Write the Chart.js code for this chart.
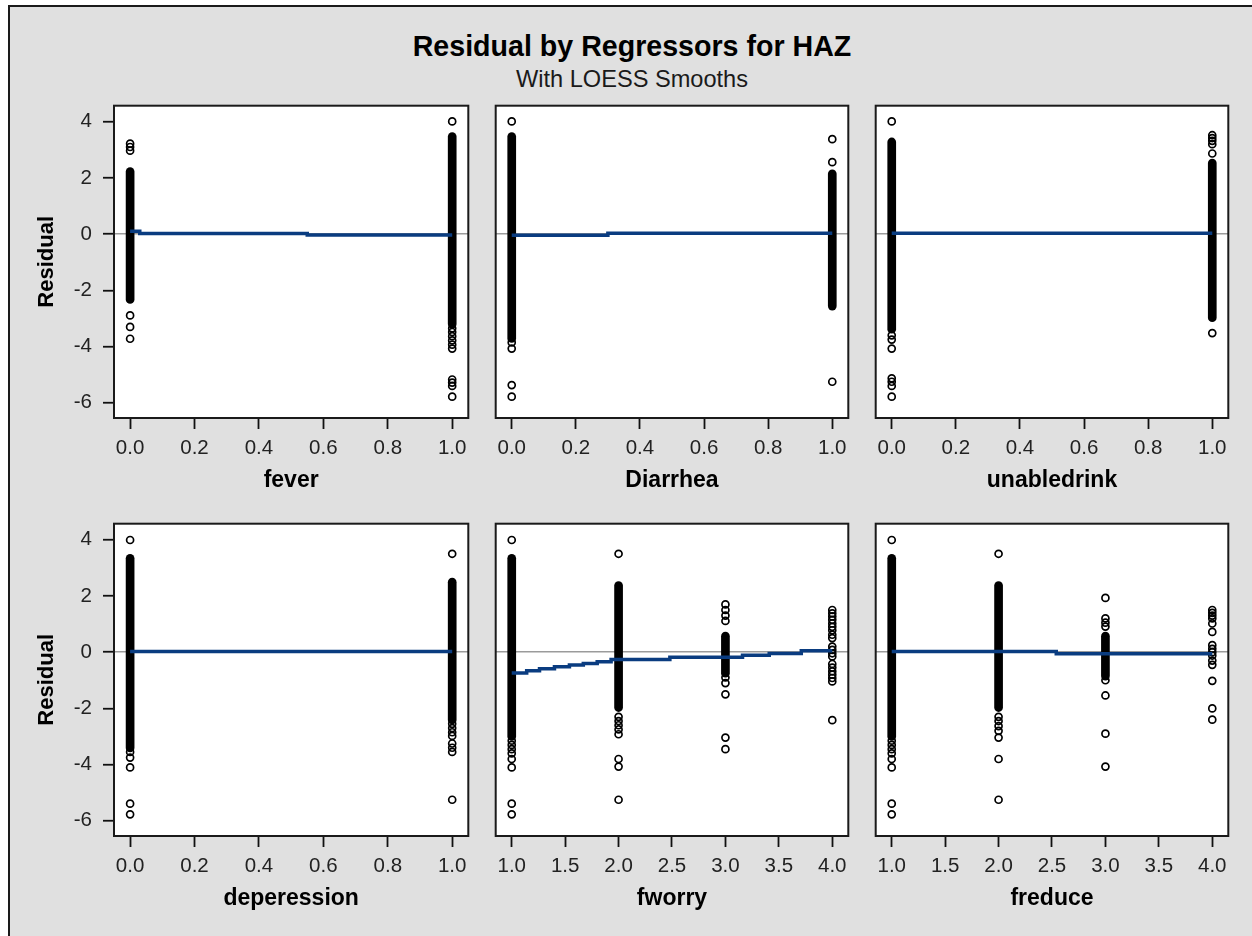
<!DOCTYPE html>
<html>
<head>
<meta charset="utf-8">
<script src="https://cdn.jsdelivr.net/npm/chart.js@4.4.1/dist/chart.umd.min.js"></script>
<style>
  html, body { margin: 0; padding: 0; background: #ffffff; }
  #page { position: relative; width: 1252px; height: 936px; overflow: hidden; }
  #box { position: absolute; left: 8px; top: 5px; width: 1300px; height: 1000px;
         background: #e0e0e0; border-left: 2px solid #1a1a1a; border-top: 2px solid #1a1a1a; }
  .ttl { position: absolute; left: 0; width: 1264px; text-align: center; color: #000;
         font-family: "Liberation Sans", Arial, sans-serif; white-space: nowrap; }
  #title { top: 32px; font-size: 28.6px; line-height: 29px; font-weight: bold; }
  #subtitle { top: 67px; font-size: 23.6px; line-height: 24px; color: #1a1a1a; }
  .panel { position: absolute; }
</style>
</head>
<body>
<div id="page">
  <div id="box"></div>
  <div id="title" class="ttl">Residual by Regressors for HAZ</div>
  <div id="subtitle" class="ttl">With LOESS Smooths</div>
</div>
<script>
// ---------------- data ----------------
const panelTitles = ['fever', 'Diarrhea', 'unabledrink', 'deperession', 'fworry', 'freduce'];
const binaryTicks = [0.0, 0.2, 0.4, 0.6, 0.8, 1.0];
const ordinalTicks = [1.0, 1.5, 2.0, 2.5, 3.0, 3.5, 4.0];
const residualTicks = [-6, -4, -2, 0, 2, 4];

// dense runs of overlapping circles: [x, lowest residual, highest residual]
const feverDense = [[0, -2.32, 2.23], [1, -3.20, 3.47]];
const feverPoints = [[0, 3.22], [0, 3.10], [0, 2.97], [0, -2.89], [0, -3.30], [0, -3.72],
  [1, 4.01], [1, -3.35], [1, -3.48], [1, -3.63], [1, -3.78], [1, -3.93], [1, -4.07],
  [1, -5.17], [1, -5.28], [1, -5.40], [1, -5.78]];
const feverLoess = [[0, 0.10], [0.03, 0.02], [0.55, -0.03], [1, -0.03]];

const diarrheaDense = [[0, -3.71, 3.47], [1, -2.56, 2.15]];
const diarrheaPoints = [[0, 4.01], [0, -3.85], [0, -4.07], [0, -5.37], [0, -5.78],
  [1, 3.38], [1, 2.56], [1, -5.25]];
const diarrheaLoess = [[0, -0.035], [0.30, 0.035], [1, 0.035]];

const unableDense = [[0, -3.38, 3.28], [1, -2.97, 2.53]];
const unablePoints = [[0, 4.01], [0, -3.60], [0, -3.75], [0, -4.07], [0, -5.13], [0, -5.25], [0, -5.40], [0, -5.78],
  [1, 3.52], [1, 3.42], [1, 3.32], [1, 3.20], [1, 2.87], [1, -3.52]];
const unableLoess = [[0, 0.035], [1, 0.035]];

const depDense = [[0, -3.41, 3.34], [1, -2.41, 2.49]];
const depPoints = [[0, 3.99], [0, -3.55], [0, -3.75], [0, -4.10], [0, -5.39], [0, -5.77],
  [1, 3.50], [1, -2.55], [1, -2.70], [1, -2.85], [1, -2.98], [1, -3.25], [1, -3.40], [1, -3.55], [1, -5.25]];
const depLoess = [[0, 0.02], [1, 0.02]];

const fworryDense = [[1, -3.00, 3.34], [2, -1.97, 2.37], [3, -0.75, 0.57]];
const fworryPoints = [[1, 3.99], [1, -3.15], [1, -3.30], [1, -3.45], [1, -3.60], [1, -3.80], [1, -4.10], [1, -5.39], [1, -5.77],
  [2, 3.50], [2, -2.30], [2, -2.45], [2, -2.60], [2, -2.75], [2, -2.92], [2, -3.80], [2, -4.07], [2, -5.25],
  [3, 1.70], [3, 1.50], [3, 1.30], [3, 1.11], [3, -0.90], [3, -1.10], [3, -1.50], [3, -3.04], [3, -3.45],
  [4, 1.50], [4, 1.38], [4, 1.27], [4, 1.15], [4, 1.02], [4, 0.90], [4, 0.78], [4, 0.62], [4, 0.50], [4, 0.20],
  [4, 0.08], [4, -0.04], [4, -0.15], [4, -0.42], [4, -0.55], [4, -0.68], [4, -0.80], [4, -0.92], [4, -1.04], [4, -2.42]];
const fworryLoess = [[1, -0.74], [1.14, -0.66], [1.26, -0.59], [1.40, -0.52], [1.54, -0.46], [1.67, -0.40],
  [1.80, -0.34], [1.93, -0.26], [2.48, -0.18], [3.16, -0.11], [3.41, -0.05], [3.71, 0.05], [4, 0.05]];

const freduceDense = [[1, -3.00, 3.34], [2, -1.97, 2.37], [3, -0.85, 0.57]];
const freducePoints = [[1, 3.99], [1, -3.15], [1, -3.30], [1, -3.45], [1, -3.60], [1, -3.80], [1, -4.10], [1, -5.39], [1, -5.77],
  [2, 3.50], [2, -2.30], [2, -2.45], [2, -2.63], [2, -2.80], [2, -3.04], [2, -3.80], [2, -5.25],
  [3, 1.93], [3, 1.20], [3, 1.05], [3, 0.91], [3, -1.00], [3, -1.54], [3, -2.90], [3, -4.07],
  [4, 1.50], [4, 1.40], [4, 1.30], [4, 1.20], [4, 1.02], [4, 0.72], [4, 0.25], [4, 0.12], [4, 0.00],
  [4, -0.12], [4, -0.30], [4, -0.45], [4, -1.02], [4, -2.00], [4, -2.40]];
const freduceLoess = [[1, 0.02], [2.54, -0.06], [4, -0.06]];

// ---------------- layout / style ----------------
const FONT = '"Liberation Sans", Arial, Helvetica, sans-serif';
const colLeft = [114, 494, 874];
const rowTop = [104, 522];
const PW = 356, PH = 314, XH = 76;
const Y_MIN = -6.54, Y_MAX = 4.57;

const panels = [
  { dense: feverDense, pts: feverPoints, loess: feverLoess, ticks: binaryTicks, range: [-0.05, 1.05] },
  { dense: diarrheaDense, pts: diarrheaPoints, loess: diarrheaLoess, ticks: binaryTicks, range: [-0.05, 1.05] },
  { dense: unableDense, pts: unablePoints, loess: unableLoess, ticks: binaryTicks, range: [-0.05, 1.05] },
  { dense: depDense, pts: depPoints, loess: depLoess, ticks: binaryTicks, range: [-0.05, 1.05] },
  { dense: fworryDense, pts: fworryPoints, loess: fworryLoess, ticks: ordinalTicks, range: [0.85, 4.15] },
  { dense: freduceDense, pts: freducePoints, loess: freduceLoess, ticks: ordinalTicks, range: [0.85, 4.15] }
];

const framePlugin = {
  id: 'frame',
  beforeDraw(chart) {
    const { ctx, chartArea: a } = chart;
    ctx.save();
    ctx.fillStyle = '#ffffff';
    ctx.fillRect(a.left, a.top, a.right - a.left, a.bottom - a.top);
    ctx.restore();
  },
  afterDraw(chart) {
    const { ctx, chartArea: a } = chart;
    ctx.save();
    ctx.strokeStyle = '#1a1a1a';
    ctx.lineWidth = 2;
    ctx.strokeRect(a.left, a.top, a.right - a.left, a.bottom - a.top);
    ctx.restore();
  }
};

const page = document.getElementById('page');

panels.forEach((p, i) => {
  const col = i % 3, row = Math.floor(i / 3);
  const L = colLeft[col], T = rowTop[row];
  const yw = col === 0 ? (L - 20) : 4;
  const cw = yw + PW + 4, ch = 4 + PH + XH;

  const div = document.createElement('div');
  div.className = 'panel';
  div.style.left = (L - yw) + 'px';
  div.style.top = (T - 4) + 'px';
  div.style.width = cw + 'px';
  div.style.height = ch + 'px';
  const cv = document.createElement('canvas');
  cv.width = cw; cv.height = ch;
  cv.style.width = cw + 'px'; cv.style.height = ch + 'px';
  div.appendChild(cv);
  page.appendChild(div);

  const datasets = [];
  datasets.push({
    type: 'line',
    data: p.loess.map(([x, y]) => ({ x, y })),
    borderColor: '#0a3c80', borderWidth: 3.5, stepped: true,
    pointRadius: 0, fill: false, order: 0
  });
  p.dense.forEach(([x, lo, hi]) => {
    datasets.push({
      type: 'line',
      data: [{ x, y: lo }, { x, y: hi }],
      borderColor: '#000000', borderWidth: 8.7, borderCapStyle: 'round',
      pointRadius: 0, fill: false, order: 1
    });
  });
  datasets.push({
    type: 'scatter',
    data: p.pts.map(([x, y]) => ({ x, y })),
    pointStyle: 'circle', pointRadius: 3.5, pointBorderWidth: 1.7,
    borderColor: '#000000', backgroundColor: 'rgba(0,0,0,0)', order: 1
  });

  new Chart(cv, {
    type: 'scatter',
    data: { datasets },
    plugins: [framePlugin],
    options: {
      responsive: false,
      animation: false,
      devicePixelRatio: 1,
      layout: { padding: { top: 4, right: 4, left: 0, bottom: 0 } },
      plugins: { legend: { display: false }, tooltip: { enabled: false }, title: { display: false } },
      scales: {
        x: {
          type: 'linear', min: p.range[0], max: p.range[1],
          afterBuildTicks: s => { s.ticks = p.ticks.map(v => ({ value: v })); },
          afterFit: s => { s.height = XH; s.paddingLeft = 0; s.paddingRight = 0; },
          grid: { drawOnChartArea: false, tickColor: '#111111', tickLength: 11, tickWidth: 1.8 },
          border: { display: false },
          ticks: { autoSkip: false, maxRotation: 0, padding: 7, color: '#222222',
                   font: { family: FONT, size: 20.5 }, callback: v => Number(v).toFixed(1) },
          title: { display: true, text: panelTitles[i], color: '#000000',
                   font: { family: FONT, size: 23, weight: 'bold' }, padding: { top: 0, bottom: 0 } }
        },
        y: {
          type: 'linear', min: Y_MIN, max: Y_MAX,
          afterBuildTicks: s => { s.ticks = residualTicks.map(v => ({ value: v })); },
          afterFit: s => { s.width = yw; s.paddingTop = 0; s.paddingBottom = 0; },
          grid: {
            color: c => (c.tick && c.tick.value === 0) ? '#9b9b9b' : 'rgba(0,0,0,0)',
            lineWidth: 1.5, drawTicks: col === 0,
            tickColor: '#111111', tickLength: 11, tickWidth: 1.8
          },
          border: { display: false },
          ticks: { display: col === 0, padding: 11, color: '#222222',
                   font: { family: FONT, size: 20.5 }, callback: v => String(v) },
          title: { display: col === 0, text: 'Residual', color: '#000000',
                   font: { family: FONT, size: 22, weight: 'bold' }, padding: { top: 14, bottom: 0 } }
        }
      }
    }
  });
});
</script>
</body>
</html>
